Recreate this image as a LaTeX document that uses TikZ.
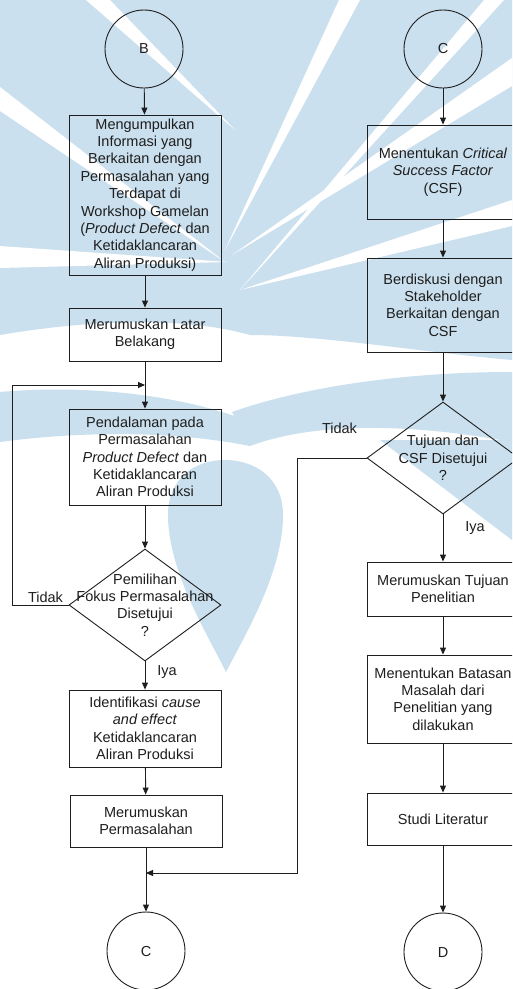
\documentclass[tikz,border=0pt]{standalone}
\usepackage{fontspec}
\setmainfont{Liberation Sans}
\usetikzlibrary{shapes.geometric,arrows.meta}
\definecolor{wm}{RGB}{203,224,238}
\definecolor{ink}{RGB}{30,30,30}
\newcommand{\fs}{\fontsize{14.5pt}{17.4pt}\selectfont}
\begin{document}
\begin{tikzpicture}[x=1pt,y=-1pt,
  box/.style={draw=ink,line width=0.9pt,minimum width=152pt,inner sep=0pt,align=center,font=\fs,text=ink},
  conn/.style={circle,draw=ink,line width=0.9pt,minimum size=78pt,inner sep=0pt,font=\fs,text=ink},
  dec/.style={diamond,draw=ink,line width=0.9pt,minimum width=152pt,minimum height=112pt,inner sep=0pt},
  dtext/.style={font=\fs,text=ink,align=center},
  arr/.style={draw=ink,line width=0.9pt,-{Triangle[length=7pt,width=6pt]}},
  ln/.style={draw=ink,line width=0.9pt},
  lab/.style={font=\fs,text=ink}]
\clip (0,0) rectangle (512,989);
\fill[white] (0,0) rectangle (512,989);
% watermark
\fill[wm] (0,0) -- (512,0) -- (512,360) .. controls (420,352) and (320,335) .. (250,335) .. controls (190,318) and (100,318) .. (0,335) -- cycle;
\fill[white] (86,0) -- (110,0) -- (235,130) -- cycle;
\fill[white] (339,0) -- (360,0) -- (225,250) -- cycle;
\fill[white] (484,0) -- (504,0) -- (240,290) -- cycle;
\fill[white] (0,87) -- (0,111) -- (225,262) -- cycle;
\fill[white] (0,246) -- (0,268) -- (228,262) -- cycle;
\fill[white] (512,58) -- (512,86) -- (232,255) -- cycle;
\fill[white] (512,200) -- (512,226) -- (240,290) -- cycle;
\fill[wm] (0,392) .. controls (90,384) and (180,396) .. (240,418) -- (250,446) .. controls (180,432) and (90,430) .. (0,442) -- cycle;
\fill[wm] (232,412) .. controls (300,388) and (400,372) .. (512,372) -- (512,442) .. controls (420,425) and (320,420) .. (250,446) -- cycle;
\fill[wm] (226,672) .. controls (205,630) and (168,570) .. (168,515) .. controls (168,478) and (195,460) .. (225,460) .. controls (255,460) and (283,478) .. (283,515) .. controls (283,570) and (248,630) .. (226,672) -- cycle;
\fill[wm] (380,440) -- (512,440) -- (512,540) -- cycle;
% left column
\node[conn] (cB) at (144,49) {B};
\node[box,minimum height=160pt] (b1) at (145,195) {Mengumpulkan\\Informasi yang\\Berkaitan dengan\\Permasalahan yang\\Terdapat di\\Workshop Gamelan\\(\textit{Product Defect} dan\\Ketidaklancaran\\Aliran Produksi)};
\node[box,minimum height=53pt] (b2) at (145,334.5) {Merumuskan Latar\\Belakang};
\node[box,minimum height=96pt] (b3) at (145,457) {Pendalaman pada\\Permasalahan\\\textit{Product Defect} dan\\Ketidaklancaran\\Aliran Produksi};
\node[dec] (d1) at (145,605) {};
\node[dtext] (t1) at (d1.center) {Pemilihan\\Fokus Permasalahan\\Disetujui\\?};
\node[box,minimum height=77pt] (b4) at (145,728.5) {Identifikasi \textit{cause}\\\textit{and effect}\\Ketidaklancaran\\Aliran Produksi};
\node[box,minimum height=52pt] (b5) at (146,821) {Merumuskan\\Permasalahan};
\node[conn] (cC1) at (146,951) {C};
\coordinate (j1) at (145,385);
\coordinate (j2) at (146,873);
\coordinate (l1) at (12,605);
\coordinate (l2) at (12,385);
% right column
\node[conn] (cC2) at (443,49) {C};
\node[box,minimum height=94pt] (b6) at (443,172) {Menentukan \textit{Critical}\\\textit{Success Factor}\\(CSF)};
\node[box,minimum height=94pt] (b7) at (443,305) {Berdiskusi dengan\\Stakeholder\\Berkaitan dengan\\CSF};
\node[dec] (d2) at (443,458) {};
\node[dtext] (t2) at (d2.center) {Tujuan dan\\CSF Disetujui\\?};
\node[box,minimum height=54pt] (b8) at (443,589) {Merumuskan Tujuan\\Penelitian};
\node[box,minimum height=88pt] (b9) at (443,699) {Menentukan Batasan\\Masalah dari\\Penelitian yang\\dilakukan};
\node[box,minimum height=52pt] (b10) at (443,819) {Studi Literatur};
\node[conn] (cD) at (443,952) {D};
\coordinate (r1) at (297,458);
\coordinate (r2) at (297,873);
% labels
\node[lab] (tidak1) at (45.5,597) {Tidak};
\node[lab] (iya1) at (167,672) {Iya};
\node[lab] (tidak2) at (339.5,428) {Tidak};
\node[lab] (iya2) at (475,528) {Iya};
% connectors
\draw[arr] (cB) -- (b1);
\draw[arr] (b1) -- (b2);
\draw[arr] (b2) -- (b3);
\draw[arr] (b3) -- (d1);
\draw[arr] (d1.west) -- (l1) -- (l2) -- (j1);
\draw[arr] (d1) -- (b4);
\draw[arr] (b4) -- (b5);
\draw[arr] (b5) -- (cC1);
\draw[arr] (d2.west) -- (r1) -- (r2) -- (j2);
\draw[arr] (cC2) -- (b6);
\draw[arr] (b6) -- (b7);
\draw[arr] (b7) -- (d2);
\draw[arr] (d2) -- (b8);
\draw[arr] (b8) -- (b9);
\draw[arr] (b9) -- (b10);
\draw[arr] (b10) -- (cD);
\end{tikzpicture}
\end{document}
